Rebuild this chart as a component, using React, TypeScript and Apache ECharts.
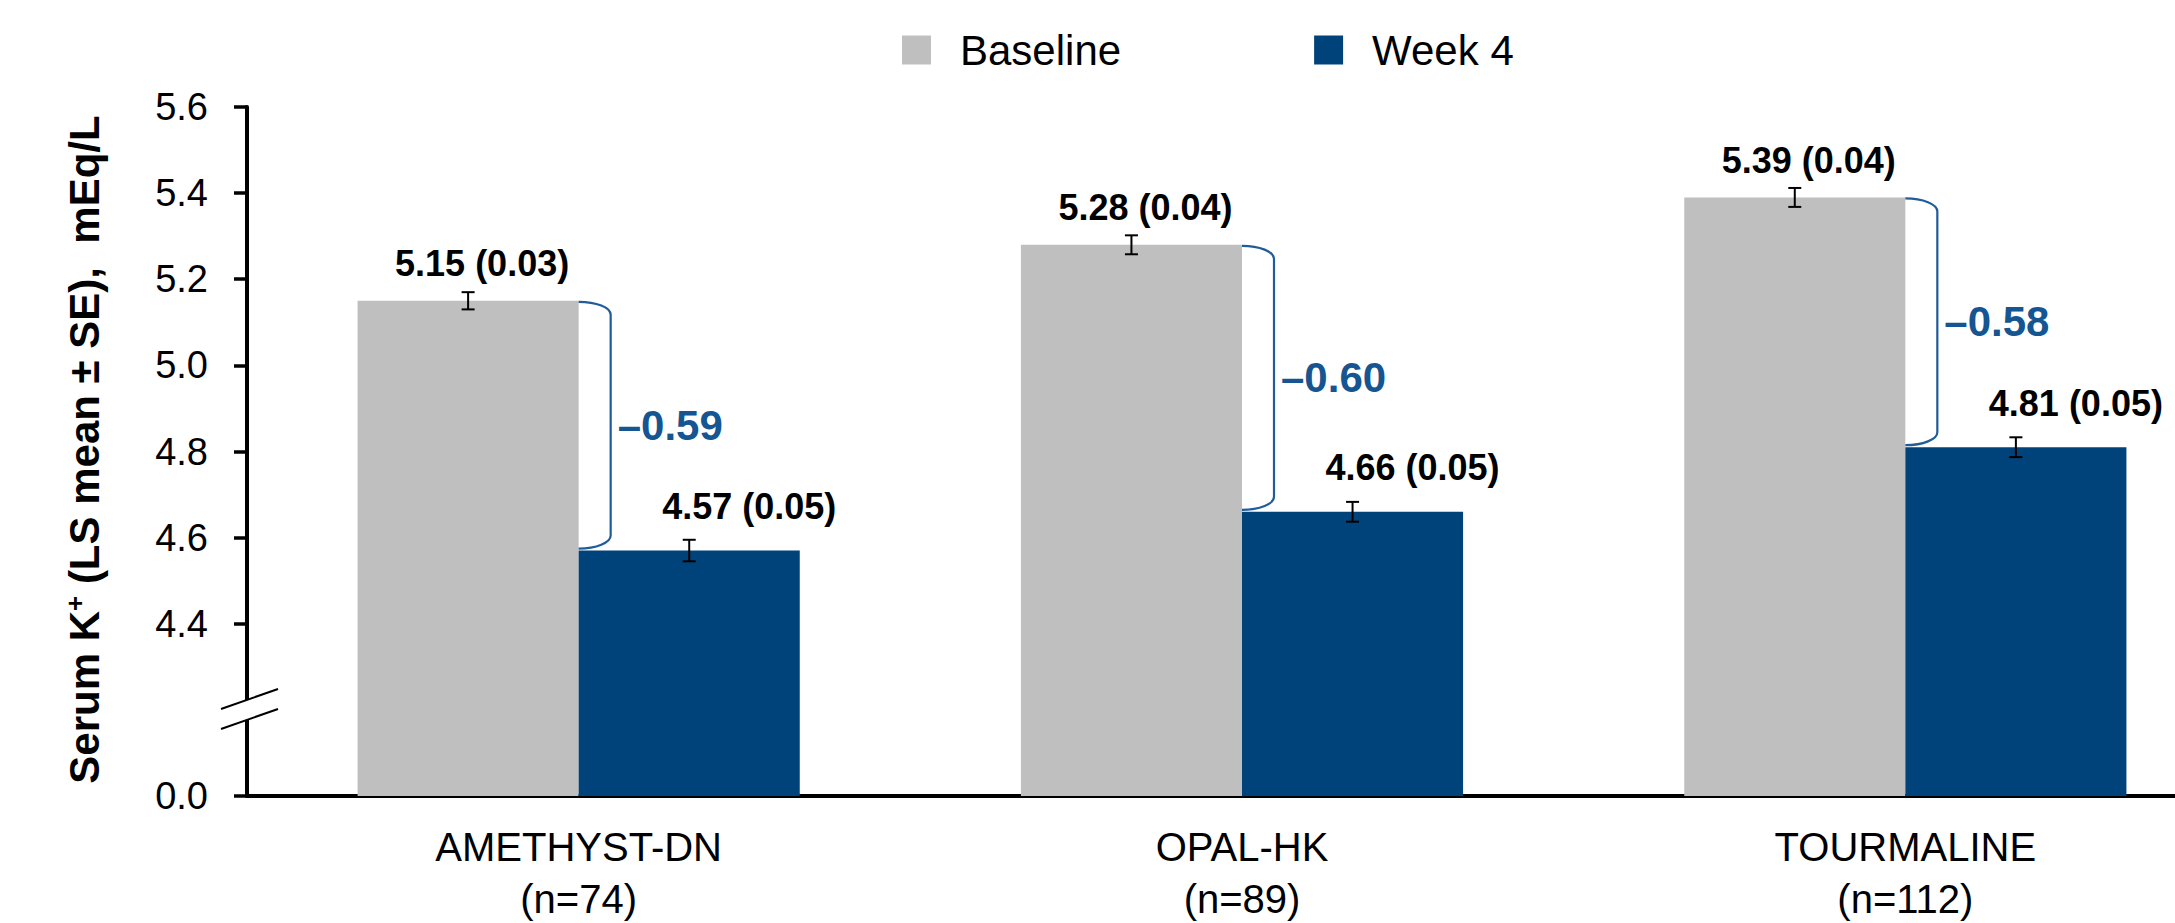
import { useEffect, useRef } from "react";
import * as echarts from "echarts";

// ---------------- data ----------------
const categories = ["AMETHYST-DN\n(n=74)", "OPAL-HK\n(n=89)", "TOURMALINE\n(n=112)"];
const seriesNames = ["Baseline", "Week 4"];
const baseline = [5.15, 5.28, 5.39];
const baselineSE = [0.03, 0.04, 0.04];
const week4 = [4.57, 4.66, 4.81];
const week4SE = [0.05, 0.05, 0.05];
const changes = [-0.59, -0.6, -0.58];
// half-lengths of the error whiskers as they are drawn in the figure
const baselineWhisker = [0.02, 0.022, 0.022];
const week4Whisker = [0.025, 0.023, 0.023];
const yTickValues = [4.0, 4.4, 4.6, 4.8, 5.0, 5.2, 5.4, 5.6];
const yTickLabels = ["0.0", "4.4", "4.6", "4.8", "5.0", "5.2", "5.4", "5.6"];
const axisMin = 4.0;
const axisMax = 5.6;
const axisStep = 0.2;
const axisBreakValue = 4.2;
const yTitle = "Serum K";

// ---------------- styles ----------------
const FONT = '"Liberation Sans", Arial, Helvetica, sans-serif';
const GRAY = "#BFBFBF";
const BLUE = "#00437A";
const BRACKET = "#1F5C99";
const DIFF = "#155592";
const GRID_LEFT = 247;

export default function App() {
  const ref = useRef<HTMLDivElement>(null);

  useEffect(() => {
    document.body.style.margin = "0";
    document.body.style.overflow = "hidden";
    const chart = echarts.init(ref.current!, null, { renderer: "svg" });

    const tickLabel = (v: number) => {
      const i = yTickValues.findIndex((t) => Math.abs(t - v) < 1e-6);
      return i >= 0 ? yTickLabels[i] : "";
    };

    const whiskerSeries = (values: number[], whisk: number[], side: number) => ({
      type: "custom",
      silent: true,
      z: 5,
      data: values.map((v, i) => [i, v, whisk[i]]),
      encode: { x: 0, y: 1 },
      renderItem: (_p: any, api: any) => {
        const i = api.value(0);
        const v = api.value(1);
        const e = api.value(2);
        const band = api.size([1, 0])[0];
        const x = api.coord([i, v])[0] + (side * band) / 6;
        const yT = api.coord([i, v + e])[1];
        const yB = api.coord([i, v - e])[1];
        const w = 6.5;
        const st = { stroke: "#000", lineWidth: 2 };
        return {
          type: "group",
          children: [
            { type: "line", shape: { x1: x, y1: yT, x2: x, y2: yB }, style: st },
            { type: "line", shape: { x1: x - w, y1: yT, x2: x + w, y2: yT }, style: st },
            { type: "line", shape: { x1: x - w, y1: yB, x2: x + w, y2: yB }, style: st },
          ],
        };
      },
    });

    const bracketSeries = {
      type: "custom",
      silent: true,
      z: 6,
      data: baseline.map((b, i) => [i, b, week4[i], changes[i]]),
      encode: { x: 0, y: 1 },
      renderItem: (_p: any, api: any) => {
        const i = api.value(0);
        const b = api.value(1);
        const w4 = api.value(2);
        const d = api.value(3);
        const p0 = api.coord([i, b]);
        const x0 = p0[0];
        const yT = p0[1] + 1;
        const yB = api.coord([i, w4])[1] - 2;
        const dx = 32;
        const dy = 13;
        const k = 0.552;
        const path =
          `M${x0},${yT} C${x0 + dx * k},${yT} ${x0 + dx},${yT + dy * (1 - k)} ${x0 + dx},${yT + dy} ` +
          `L${x0 + dx},${yB - dy} C${x0 + dx},${yB - dy * (1 - k)} ${x0 + dx * k},${yB} ${x0},${yB}`;
        return {
          type: "group",
          children: [
            {
              type: "path",
              shape: { pathData: path },
              style: { fill: "none", stroke: BRACKET, lineWidth: 2.2 },
            },
            {
              type: "text",
              x: x0 + dx + 7,
              y: (yT + yB) / 2,
              style: {
                text: "\u2013" + Math.abs(d).toFixed(2),
                fill: DIFF,
                font: `bold 42px ${FONT}`,
                align: "left",
                verticalAlign: "middle",
              },
            },
          ],
        };
      },
    };

    const labelStyle = {
      show: true,
      position: "top",
      distance: 0,
      fontSize: 36,
      fontWeight: "bold",
      fontFamily: FONT,
      color: "#000",
    };

    chart.setOption({
      animation: false,
      backgroundColor: "#fff",
      textStyle: { fontFamily: FONT },
      legend: {
        data: seriesNames,
        left: 897,
        top: 24,
        icon: "rect",
        itemWidth: 29,
        itemHeight: 29,
        itemGap: 193,
        selectedMode: false,
        textStyle: { fontSize: 42, color: "#000", fontFamily: FONT, padding: [0, 0, 0, 24] },
      },
      grid: {
        left: GRID_LEFT,
        right: -62,
        top: 107,
        bottom: 127,
        outerBoundsMode: "none",
        containLabel: false,
      },
      xAxis: {
        type: "category",
        data: categories,
        axisLine: { show: true, lineStyle: { color: "#000", width: 4 } },
        axisTick: { show: false },
        axisLabel: {
          fontSize: 40,
          lineHeight: 52,
          color: "#000",
          fontFamily: FONT,
          margin: 25,
          interval: 0,
        },
        splitLine: { show: false },
      },
      yAxis: {
        type: "value",
        min: axisMin,
        max: axisMax,
        interval: axisStep,
        axisLine: { show: true, lineStyle: { color: "#000", width: 4 } },
        axisTick: {
          show: true,
          length: 13,
          lineStyle: { color: "#000", width: 3.5 },
          customValues: yTickValues,
        },
        axisLabel: {
          fontSize: 38,
          color: "#000",
          fontFamily: FONT,
          margin: 39,
          customValues: yTickValues,
          formatter: (v: number) => tickLabel(v),
        },
        splitLine: { show: false },
      },
      series: [
        {
          name: seriesNames[0],
          type: "bar",
          data: baseline,
          barWidth: "33.33%",
          barGap: "0%",
          itemStyle: { color: GRAY },
          label: {
            ...labelStyle,
            offset: [14, -19],
            formatter: (p: any) =>
              `${baseline[p.dataIndex].toFixed(2)} (${baselineSE[p.dataIndex].toFixed(2)})`,
          },
          z: 2,
        },
        {
          name: seriesNames[1],
          type: "bar",
          data: week4,
          barWidth: "33.33%",
          barGap: "0%",
          itemStyle: { color: BLUE },
          label: {
            ...labelStyle,
            offset: [60, -26],
            formatter: (p: any) =>
              `${week4[p.dataIndex].toFixed(2)} (${week4SE[p.dataIndex].toFixed(2)})`,
          },
          z: 2,
        },
        whiskerSeries(baseline, baselineWhisker, -1),
        whiskerSeries(week4, week4Whisker, 1),
        bracketSeries,
      ],
    });

    // axis break and rotated title
    const yb = chart.convertToPixel({ yAxisIndex: 0 }, axisBreakValue) as number;
    const ax = GRID_LEFT;
    const slope = 20 / 57;
    const slash = (cy: number) => ({
      type: "line",
      z: 101,
      shape: { x1: ax - 26, y1: cy + 26 * slope, x2: ax + 31, y2: cy - 31 * slope },
      style: { stroke: "#000", lineWidth: 2 },
    });
    const yMid =
      ((chart.convertToPixel({ yAxisIndex: 0 }, axisMin) as number) +
        (chart.convertToPixel({ yAxisIndex: 0 }, axisMax) as number)) /
      2;

    chart.setOption({
      graphic: [
        {
          type: "polygon",
          z: 100,
          shape: {
            points: [
              [ax - 7, yb - 10 + 7 * slope],
              [ax + 7, yb - 10 - 7 * slope],
              [ax + 7, yb + 10 - 7 * slope],
              [ax - 7, yb + 10 + 7 * slope],
            ],
          },
          style: { fill: "#fff" },
        },
        slash(yb - 10),
        slash(yb + 10),
        {
          type: "text",
          z: 100,
          x: 84,
          y: yMid - 2,
          rotation: Math.PI / 2,
          style: {
            text: `{a|${yTitle}}{s|+}{a| (LS mean ± SE),  mEq/L}`,
            align: "center",
            verticalAlign: "middle",
            rich: {
              a: { fontSize: 42, fontWeight: "bold", fontFamily: FONT, fill: "#000", lineHeight: 44 },
              s: {
                fontSize: 26,
                fontWeight: "bold",
                fontFamily: FONT,
                fill: "#000",
                verticalAlign: "top",
                lineHeight: 26,
              },
            },
          },
        },
      ],
    });

    return () => chart.dispose();
  }, []);

  return <div ref={ref} style={{ width: 2175, height: 923 }} />;
}
